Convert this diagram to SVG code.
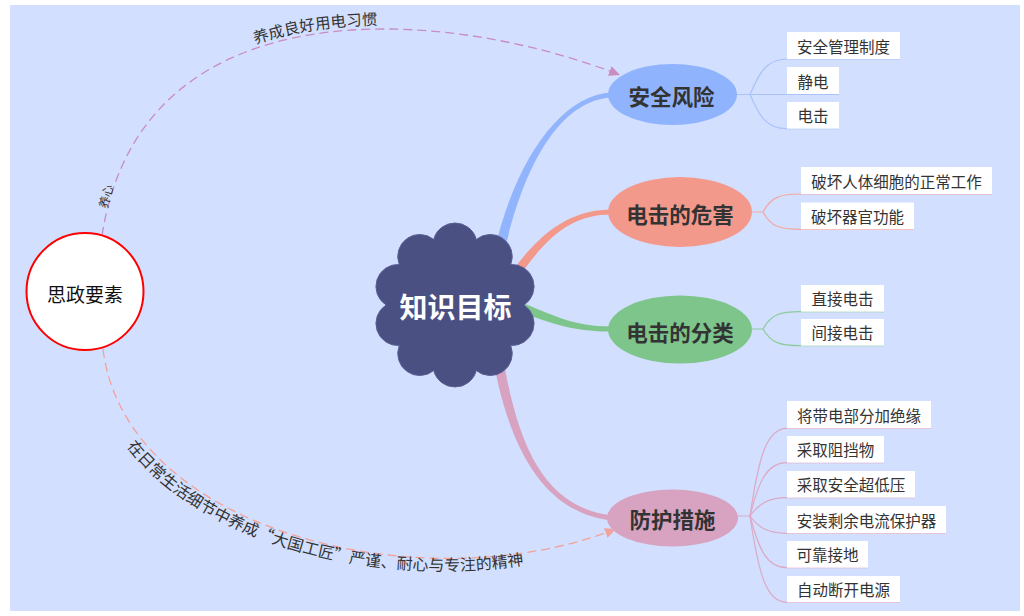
<svg xmlns="http://www.w3.org/2000/svg" width="1024" height="616" viewBox="0 0 1024 616">
<style>
text{font-family:"Noto Sans CJK SC","Noto Sans",sans-serif;}
.leaf rect{fill:#ffffff;}
.leaf text{font-size:15.5px;fill:#333333;text-anchor:middle;dominant-baseline:central;}
.main text{font-size:21.5px;font-weight:bold;fill:#333333;text-anchor:middle;dominant-baseline:central;}
.lb{fill:none;stroke:#A8C3FA;stroke-width:1.2;}
.ls{fill:none;stroke:#F2A7A0;stroke-width:1.2;}
.lg{fill:none;stroke:#8ECB9A;stroke-width:1.2;}
.lp{fill:none;stroke:#DCA9C6;stroke-width:1.2;}
.dash{fill:none;stroke-width:1.3;stroke-dasharray:9 5;}
.clab{font-size:15.5px;fill:#333333;}
</style>
<defs>
<marker id="arrP" markerUnits="userSpaceOnUse" markerWidth="12" markerHeight="10" refX="11" refY="5" orient="auto"><path d="M0,0 L11,5 L0,10 z" fill="#C98DC0"/></marker>
<marker id="arrS" markerUnits="userSpaceOnUse" markerWidth="12" markerHeight="10" refX="11" refY="5" orient="auto"><path d="M0,0 L11,5 L0,10 z" fill="#F2A29A"/></marker>
<path id="topText" d="M 101 232 C 139 -19, 440 1, 620 71"/>
<path id="botText" d="M 89.1 350.7 C 105 545, 425 620, 621 538"/>
</defs>
<rect x="10" y="5" width="1010" height="606" fill="#D2DFFE"/>

<g id="connectors">
<path d="M 501.9 263 C 521.9 166, 560.1 99.5, 612.1 97.5 L 611.9 92.5 C 559.9 94.5, 512.1 164, 492.1 261 Z" fill="#91B4FC"/>
<path d="M 508.8 292.4 C 543.8 237.4, 570 214.5, 612 214.5 L 612 209.5 C 570 209.5, 536.2 232.6, 501.2 287.6 Z" fill="#F3998C"/>
<path d="M 513.4 309.2 C 548.4 322.2, 570 331.5, 612 331.5 L 612 326.5 C 570 326.5, 551.6 313.8, 516.6 300.8 Z" fill="#7EC58C"/>
<path d="M 490 340.7 C 505 440.7, 539.7 512.5, 611.7 520.5 L 612.3 515.5 C 540.3 507.5, 515 439.3, 500 339.3 Z" fill="#D7A3C1"/>

<path class="lb" d="M 737 94.5 H 750 C 758 76, 765 59, 787 59 H 900"/>
<path class="lb" d="M 750 94.5 H 839"/>
<path class="lb" d="M 750 94.5 C 758 113, 765 128.7, 787 128.7 H 839"/>

<path class="ls" d="M 752 212 H 763 C 771 197, 780 194, 801 194 H 992"/>
<path class="ls" d="M 763 212 C 771 227, 780 229.3, 801 229.3 H 914"/>

<path class="lg" d="M 752 329 H 763 C 771 314, 780 311.7, 801 311.7 H 884"/>
<path class="lg" d="M 763 329 C 771 343, 780 345.7, 801 345.7 H 884"/>

<path class="lp" d="M 738 516 H 750 C 759 455, 767 428.3, 787 428.3 H 931"/>
<path class="lp" d="M 750 516 C 759 480, 767 462.7, 787 462.7 H 884"/>
<path class="lp" d="M 750 516 C 758 505, 767 497.7, 787 497.7 H 915"/>
<path class="lp" d="M 750 516 C 758 527, 767 533.3, 787 533.3 H 946"/>
<path class="lp" d="M 750 516 C 759 550, 767 567.7, 787 567.7 H 868"/>
<path class="lp" d="M 750 516 C 759 577, 767 602.3, 787 602.3 H 900"/>

<path class="dash" stroke="#C98DC0" d="M 102 236 C 140 -15, 440 5, 620 75" marker-end="url(#arrP)"/>
<path class="dash" stroke="#F2A29A" d="M 103 349 C 125 530, 420 605, 616 529" marker-end="url(#arrS)"/>
<text class="clab"><textPath href="#topText" startOffset="257">养成良好用电习惯</textPath></text>
<text class="clab" style="font-size:16px"><textPath href="#botText" startOffset="104">在日常生活细节中养成“大国工匠”严谨、耐心与专注的精神</textPath></text>
<text transform="translate(105,196) rotate(-75)" font-size="12" fill="#333333" text-anchor="middle" dominant-baseline="central">养心</text>
</g>

<g id="node-center">
<path d="M 433.71 239.47 A 22 22 0 0 1 476.29 239.47 A 22 22 0 0 1 510.74 264.5 A 22 22 0 0 1 523.9 305 A 22 22 0 0 1 510.74 345.5 A 22 22 0 0 1 476.29 370.53 A 22 22 0 0 1 433.71 370.53 A 22 22 0 0 1 399.26 345.5 A 22 22 0 0 1 386.1 305 A 22 22 0 0 1 399.26 264.5 A 22 22 0 0 1 433.71 239.47 Z" fill="#4B5083" stroke="#5A5F95" stroke-width="1"/>
<text x="455.5" y="306" font-size="28" font-weight="bold" fill="#ffffff" text-anchor="middle" dominant-baseline="central">知识目标</text>
</g>

<g id="node-sizheng">
<circle cx="85" cy="291.5" r="58.5" fill="#ffffff" stroke="#FF0000" stroke-width="2"/>
<text x="85" y="293" font-size="19" fill="#111111" text-anchor="middle" dominant-baseline="central">思政要素</text>
</g>

<g id="node-anquan" class="main">
<ellipse cx="672.5" cy="94.5" rx="64.5" ry="30.5" fill="#8FB3FC"/>
<text x="671.5" y="95">安全风险</text>
</g>
<g id="node-weihai" class="main">
<ellipse cx="680" cy="212" rx="72" ry="35" fill="#F3998C"/>
<text x="680" y="213">电击的危害</text>
</g>
<g id="node-fenlei" class="main">
<ellipse cx="680" cy="329.5" rx="72" ry="34" fill="#7EC58C"/>
<text x="680" y="331">电击的分类</text>
</g>
<g id="node-fanghu" class="main">
<ellipse cx="672.5" cy="518" rx="65.5" ry="28.5" fill="#D7A3C1"/>
<text x="672.5" y="518">防护措施</text>
</g>

<g id="leaf-1" class="leaf"><rect x="787" y="32" width="113" height="27"/><text x="843.5" y="45.5">安全管理制度</text></g>
<g id="leaf-2" class="leaf"><rect x="787" y="67" width="52" height="27"/><text x="813" y="80.5">静电</text></g>
<g id="leaf-3" class="leaf"><rect x="787" y="102" width="52" height="26.7"/><text x="813" y="115.3">电击</text></g>
<g id="leaf-4" class="leaf"><rect x="801" y="167" width="191" height="27"/><text x="896.5" y="180.5">破坏人体细胞的正常工作</text></g>
<g id="leaf-5" class="leaf"><rect x="801" y="202.5" width="113" height="26.8"/><text x="857.5" y="216">破坏器官功能</text></g>
<g id="leaf-6" class="leaf"><rect x="801" y="285" width="83" height="26.7"/><text x="842.5" y="298.3">直接电击</text></g>
<g id="leaf-7" class="leaf"><rect x="801" y="319" width="83" height="26.7"/><text x="842.5" y="332.3">间接电击</text></g>
<g id="leaf-8" class="leaf"><rect x="787" y="401" width="144" height="27.3"/><text x="859" y="414.6">将带电部分加绝缘</text></g>
<g id="leaf-9" class="leaf"><rect x="787" y="436" width="97" height="26.7"/><text x="835.5" y="449.3">采取阻挡物</text></g>
<g id="leaf-10" class="leaf"><rect x="787" y="471" width="128" height="26.7"/><text x="851" y="484.3">采取安全超低压</text></g>
<g id="leaf-11" class="leaf"><rect x="787" y="506" width="159" height="27.3"/><text x="866.5" y="519.6">安装剩余电流保护器</text></g>
<g id="leaf-12" class="leaf"><rect x="787" y="541" width="81" height="26.7"/><text x="827.5" y="554.3">可靠接地</text></g>
<g id="leaf-13" class="leaf"><rect x="787" y="576" width="113" height="26.3"/><text x="843.5" y="589.2">自动断开电源</text></g>
</svg>
